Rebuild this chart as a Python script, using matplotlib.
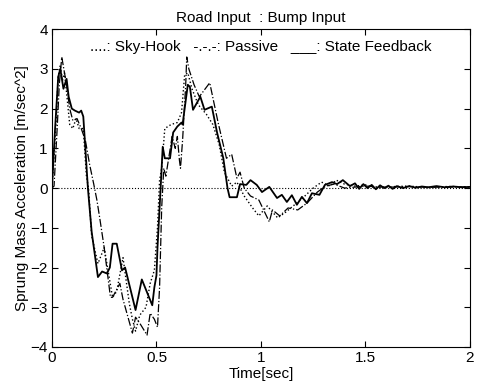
import matplotlib
matplotlib.use("Agg")
import matplotlib.pyplot as plt

plt.rcParams['font.family'] = ['Liberation Sans', 'DejaVu Sans']

# State Feedback (solid)
t_sf = [0, 0.015, 0.03, 0.04, 0.055, 0.07, 0.08, 0.095, 0.11, 0.13, 0.14, 0.15, 0.172, 0.19, 0.22,
        0.24, 0.263, 0.277, 0.29, 0.31, 0.335, 0.35, 0.40, 0.43, 0.48, 0.49, 0.50, 0.505, 0.52,
        0.53, 0.54, 0.565, 0.58, 0.60, 0.62, 0.625, 0.65, 0.66, 0.675, 0.71, 0.73, 0.765, 0.79,
        0.82, 0.84, 0.85, 0.885, 0.90, 0.93, 0.95, 0.98, 1.005, 1.04, 1.077, 1.10, 1.124, 1.148,
        1.172, 1.196, 1.22, 1.244, 1.28, 1.306, 1.34, 1.364, 1.392, 1.426, 1.45, 1.47, 1.49, 1.51,
        1.53, 1.55, 1.57, 1.59, 1.61, 1.63, 1.65, 1.68, 1.71, 1.74, 1.77, 1.80, 1.84, 1.88, 1.92,
        1.96, 2.0]
a_sf = [0, 1.5, 2.8, 3.0, 2.5, 2.75, 2.3, 2.0, 1.95, 1.9, 1.95, 1.8, 0, -1.1, -2.24,
        -2.1, -2.15, -2.0, -1.4, -1.4, -2.07, -2.0, -3.07, -2.3, -2.95, -2.5, -2.2, -1.5, 0,
        1.04, 0.75, 0.75, 1.4, 1.55, 1.65, 1.6, 2.6, 2.55, 1.97, 2.3, 1.97, 2.05, 1.4,
        0.75, 0, -0.23, -0.23, 0.1, 0.08, 0.2, 0.08, -0.1, 0.03, -0.25, -0.17, -0.35, -0.18,
        -0.42, -0.22, -0.38, -0.13, -0.17, 0.08, 0.15, 0.1, 0.2, 0.05, 0.12, -0.02, 0.1, 0.0,
        0.08, -0.03, 0.07, 0.0, 0.06, -0.02, 0.05, 0.0, 0.05, 0.01, 0.04, 0.02, 0.05, 0.02, 0.04,
        0.02, 0.03]

# Sky-Hook (dotted)
t_sh = [0, 0.015, 0.03, 0.04, 0.05, 0.06, 0.07, 0.085, 0.10, 0.115, 0.13, 0.15, 0.165, 0.175,
        0.19, 0.22, 0.25, 0.29, 0.31, 0.34, 0.37, 0.385, 0.40, 0.42, 0.45, 0.47, 0.49, 0.505,
        0.515, 0.525, 0.54, 0.57, 0.60, 0.62, 0.635, 0.65, 0.67, 0.70, 0.74, 0.77, 0.80, 0.825,
        0.86, 0.885, 0.92, 0.96, 0.99, 1.03, 1.08, 1.12, 1.20, 1.25, 1.29, 1.33, 1.36, 1.40, 1.45,
        1.5, 1.55, 1.6, 1.7, 1.8, 1.9, 2.0]
a_sh = [0, 1.2, 2.8, 3.1, 2.7, 2.9, 2.4, 1.6, 1.5, 1.75, 1.5, 1.5, 0.3, 0,
        -1.2, -1.9, -1.5, -2.75, -2.6, -1.75, -2.9, -3.3, -3.6, -3.2, -3.0, -2.4, -2.07, -1.0,
        0.2, 0.5, 1.5, 1.6, 1.65, 1.9, 2.85, 2.9, 2.5, 2.1, 1.85, 1.6, 1.1, 0.4,
        0.05, 0.15, -0.2, -0.5, -0.7, -0.45, -0.75, -0.6, -0.25, 0.0, 0.15, 0.05, 0.2, 0.1, 0.05,
        0.08, 0.0, 0.03, 0.05, 0.02, 0.04, 0.03]

# Passive (dash-dot)
t_pa = [0, 0.01, 0.025, 0.035, 0.047, 0.06, 0.07, 0.085, 0.10, 0.12, 0.14, 0.16, 0.18, 0.20,
        0.215, 0.23, 0.25, 0.28, 0.29, 0.325, 0.34, 0.385, 0.40, 0.42, 0.455, 0.47, 0.49, 0.505,
        0.515, 0.525, 0.535, 0.545, 0.56, 0.575, 0.59, 0.60, 0.61, 0.615, 0.625, 0.64, 0.645,
        0.655, 0.68, 0.705, 0.755, 0.795, 0.835, 0.86, 0.885, 0.90, 0.92, 0.95, 0.99, 1.04,
        1.055, 1.09, 1.13, 1.176, 1.22, 1.27, 1.31, 1.35, 1.40, 1.5, 1.6, 1.7, 1.8, 2.0]
a_pa = [0, 0.05, 1.5, 2.6, 3.3, 2.9, 2.6, 2.0, 1.7, 1.75, 1.5, 1.2, 0.6, 0.1,
        -0.3, -0.8, -1.5, -2.75, -2.75, -2.4, -2.8, -3.65, -3.25, -3.4, -3.7, -3.15, -3.3, -3.5,
        -2.5, -0.5, 0.5, 0.3, 0.8, 1.3, 1.0, 1.3, 0.7, 0.5, 1.2, 2.6, 3.3,
        3.0, 2.6, 2.3, 2.65, 1.65, 0.75, 0.85, 0.25, 0.4, 0.0, -0.2, -0.3, -0.85,
        -0.55, -0.7, -0.5, -0.55, -0.38, -0.1, 0.05, 0.1, 0.0, 0.05, 0.02, 0.04, 0.02, 0.03]

x_ticks = [0, 0.5, 1, 1.5, 2]
x_tick_labels = ['0', '0.5', '1', '1.5', '2']
y_ticks = [-4, -3, -2, -1, 0, 1, 2, 3, 4]

fig = plt.figure(figsize=(4.81, 3.89), dpi=100)
ax = fig.add_axes([0.108, 0.108, 0.869, 0.817])

ax.axhline(0, color='black', linestyle=':', linewidth=0.8)
ax.plot(t_sh, a_sh, color='black', linestyle=':', linewidth=1.0)
ax.plot(t_pa, a_pa, color='black', linestyle='-.', linewidth=0.9)
ax.plot(t_sf, a_sf, color='black', linestyle='-', linewidth=1.3)

ax.set_xlim(0, 2)
ax.set_ylim(-4, 4)
ax.set_xticks(x_ticks)
ax.set_xticklabels(x_tick_labels)
ax.set_yticks(y_ticks)
ax.tick_params(direction='in', top=True, right=True, labelsize=11, length=4, pad=3)

ax.text(0.5, 0.967, '....: Sky-Hook   -.-.-: Passive   ___: State Feedback',
        transform=ax.transAxes, ha='center', va='top', fontsize=11)

ax.set_title('Road Input  : Bump Input', fontsize=11, pad=5)
ax.set_xlabel('Time[sec]', fontsize=11, labelpad=1)
ax.set_ylabel('Sprung Mass Acceleration [m/sec^2]', fontsize=11, labelpad=1)

fig.savefig('out.png', dpi=100)
